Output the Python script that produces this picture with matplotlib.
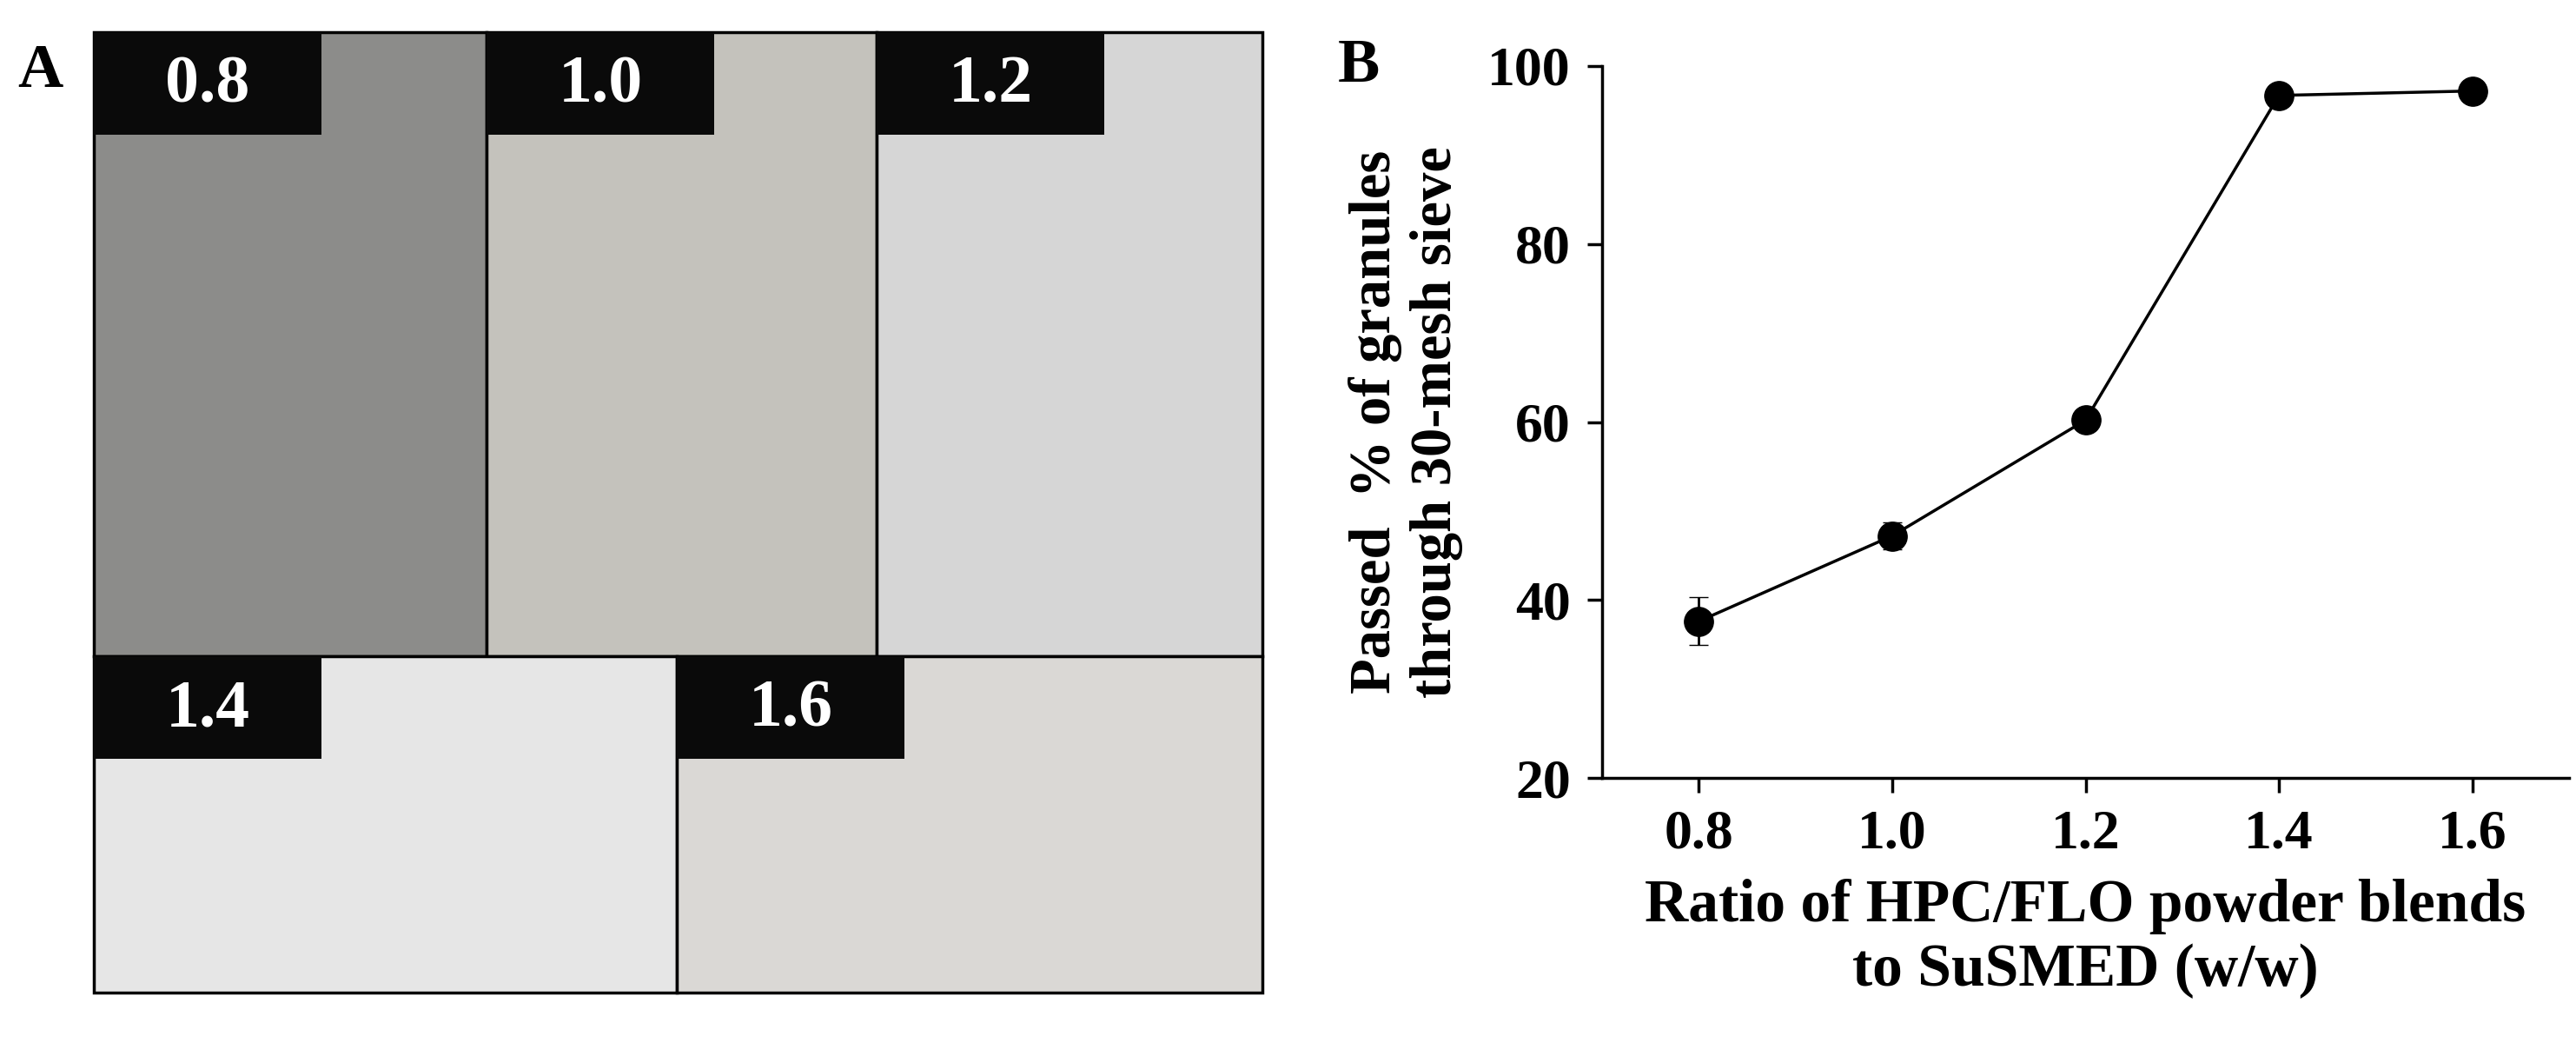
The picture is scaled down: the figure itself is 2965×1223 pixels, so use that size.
import matplotlib.pyplot as plt
from matplotlib.patches import Rectangle

plt.rcParams["font.family"] = ["Liberation Serif", "DejaVu Serif"]
plt.rcParams["font.weight"] = "bold"

ratios = [0.8, 1.0, 1.2, 1.4, 1.6]
passed = [37.6, 47.2, 60.2, 96.7, 97.2]
errors = [2.7, 1.5, 0.8, 0.8, 0.8]

photo_labels = ["0.8", "1.0", "1.2", "1.4", "1.6"]
photo_tones = ["#8c8c8a", "#c4c2bc", "#d6d6d6", "#e6e6e6", "#dad8d5"]

W, H = 2965, 1223
fig = plt.figure(figsize=(W / 100, H / 100), dpi=100)

# panel A: photo grid (flat tones stand in for the photographs)
axA = fig.add_axes([0, 0, 1, 1])
axA.set_xlim(0, W)
axA.set_ylim(H, 0)
axA.axis("off")
cells = [
    (108, 37, 560, 755), (560, 37, 1009, 755), (1009, 37, 1453, 755),
    (108, 755, 779, 1142), (779, 755, 1453, 1142),
]
for (x0, y0, x1, y1), tone, lab in zip(cells, photo_tones, photo_labels):
    axA.add_patch(Rectangle((x0, y0), x1 - x0, y1 - y0, facecolor=tone,
                            edgecolor="black", lw=2.5))
    axA.add_patch(Rectangle((x0, y0), 262, 118, facecolor="#0a0a0a", edgecolor="none"))
    axA.text(x0 + 131, y0 + 62, lab, color="white", fontsize=56,
             ha="center", va="center", fontweight="bold")
axA.text(20, 82, "A", fontsize=52, fontweight="bold", va="center")
axA.text(1540, 76, "B", fontsize=52, fontweight="bold", va="center")

# panel B
axB = fig.add_axes([1844 / W, 1 - 895 / H, (2957 - 1844) / W, (895 - 76) / H])
axB.errorbar(ratios, passed, yerr=errors, color="black", marker="o",
             markersize=24, lw=2.5, capsize=8, elinewidth=2)
axB.set_xlim(0.7, 1.7)
axB.set_ylim(20, 100)
axB.set_xticks(ratios)
axB.set_xticklabels([f"{r:.1f}" for r in ratios])
axB.set_yticks([20, 40, 60, 80, 100])
for s in ["top", "right"]:
    axB.spines[s].set_visible(False)
for s in ["left", "bottom"]:
    axB.spines[s].set_linewidth(2.5)
axB.tick_params(labelsize=46, width=2.5, length=12, pad=14)
axB.set_xlabel("Ratio of HPC/FLO powder blends\nto SuSMED (w/w)",
               fontsize=50, fontweight="bold", labelpad=16, linespacing=1.2)
axB.set_ylabel("Passed  % of granules\nthrough 30-mesh sieve",
               fontsize=48, fontweight="bold", labelpad=20, linespacing=1.2)

fig.savefig("out.png", dpi=100)
